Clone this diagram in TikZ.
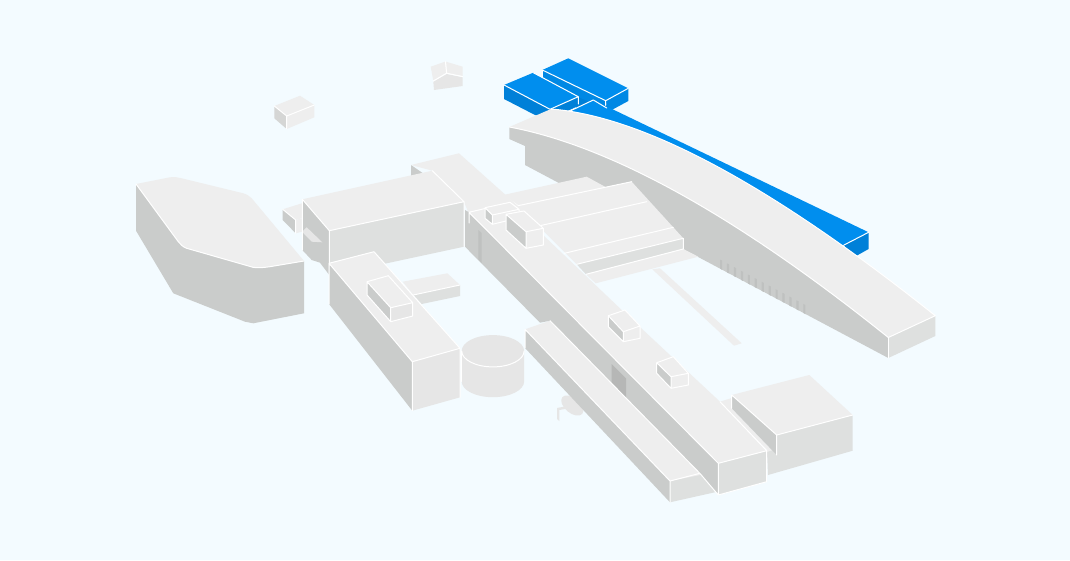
\documentclass[tikz,border=0pt]{standalone}
\definecolor{bgc}{HTML}{F3FBFF}
\definecolor{roofc}{HTML}{EEEEEE}
\definecolor{darkc}{HTML}{CACCCB}
\definecolor{lightc}{HTML}{DEE0DF}
\definecolor{palec}{HTML}{E6E6E6}
\definecolor{shadec}{HTML}{BFC1C0}
\definecolor{blueT}{HTML}{008EEE}
\definecolor{blueS}{HTML}{0080D8}
\definecolor{blueM}{HTML}{0088E4}
\tikzset{
  rooff/.style={fill=roofc},
  shadef/.style={fill=shadec},
  ridge/.style={draw=white,line width=0.75pt,line join=round,line cap=round,fill=none},
}
\begin{document}
\begin{tikzpicture}[x=0.75pt,y=-0.75pt]
\useasboundingbox (0,0) rectangle (1070,560);
\fill[bgc] (0,0) rectangle (1070,560);

% --- free boxes at the back
\fill[darkc!70!roofc] (274.3,106)--(286.7,116)--(286.7,129)--(274.3,118.3)--cycle;
\fill[rooff] (274.3,106)--(300,95.7)--(314.3,105)--(286.7,116)--cycle;
\fill[rooff] (286.7,116)--(314.3,105)--(314.3,117.3)--(286.7,129)--cycle;
\draw[ridge] (274.3,106)--(286.7,116)--(314.3,105) (286.7,116)--(286.7,129);

\fill[rooff] (430.7,66.7)--(445,61.7)--(446.7,72.7)--(433.3,80.7)--cycle;
\fill[rooff] (446,61.7)--(462.7,66.7)--(462.7,76)--(446.7,73.3)--cycle;
\fill[palec] (446.7,74)--(462.7,77.3)--(462.7,86)--(434,90)--(433.3,81.7)--cycle;
\draw[ridge] (445.5,61.7)--(446.6,73.2)--(433.3,81) (446.6,73.2)--(462.7,76.6);

% --- blue buildings
\fill[blueS] (578,97)--(606,101)--(608,112)--(575,112)--cycle;
\fill[blueM] (542.3,70)--(605.7,100.7)--(605.7,110)--(590,102)--(578,97)--(542.3,79)--cycle;
\fill[blueM] (605.7,100.7)--(628.3,88.3)--(628.3,101)--(608,112)--cycle;
\fill[blueT] (542.3,70)--(568.3,58.3)--(628.3,88.3)--(605.7,100.7)--cycle;
\draw[ridge] (542.3,78)--(542.3,70)--(605.7,100.7)--(628.3,88.3) (605.7,100.7)--(605.7,108);

\fill[blueS] (504,85)--(550,109.3)--(578.3,96.7)--(578.3,106)--(552,118)--(535,115)--(504,99)--cycle;
\fill[blueT] (504,85)--(533.3,72.7)--(578.3,96.7)--(550,109.3)--cycle;
\draw[ridge] (504,85)--(550,109.3)--(578.3,96.7)--(533.3,72.7) (578.3,96.7)--(578.3,104);

\fill[blueS] (844,245)--(868.6,232.3)--(868.6,249)--(857,255.5)--(850,256)--cycle;
\fill[blueT] (568,112)--(593.3,100)--(868.6,232.3)--(844,245)--(825,245)--(700,180)--(600,130)--cycle;
\draw[ridge] (568,112)--(593.3,100)--(606.7,108) (844,245)--(868.6,232.3);

% --- curved building
\fill[darkc] (509.3,127)--(509.3,139)--(525,146)--(525,165)--(888.3,358)--(888.3,337.5)
  .. controls (722,204) and (600,144) .. (509.3,127)--cycle;
\fill[lightc] (888.3,337.5)--(935.3,315.7)--(935.3,336)--(888.3,358)--cycle;
\fill[rooff] (509.3,127)--(551,109) .. controls (640,116) and (765,180) .. (935.3,315.7)
  --(888.3,337.5) .. controls (722,204) and (600,144) .. (509.3,127)--cycle;
\draw[ridge] (551,109) .. controls (640,116) and (765,180) .. (935.3,315.7)--(888.3,337.5)
  .. controls (722,204) and (600,144) .. (509.3,127);
\draw[ridge] (888.3,337.5)--(888.3,358);
\foreach \i in {0,...,12}{
  \pgfmathsetmacro{\xa}{720+6.94*\i}
  \pgfmathsetmacro{\ya}{165+0.5317*(\xa-525)}
  \fill[shadef] (\xa,\ya-9)--(\xa+2.2,\ya-8)--(\xa+2.2,\ya+1.2)--(\xa,\ya)--cycle;
}

% --- halls behind the spine
\fill[rooff] (503.3,195)--(586.7,176.7)--(605,186.7)--(530,225)--cycle;
\fill[rooff] (518,205.7)--(631.7,181.7)--(683.3,238.3)--(576.7,264.3)--cycle;
\fill[lightc] (576.7,264.3)--(683.3,238.3)--(683.3,249)--(586,274.3)--cycle;
\fill[rooff] (586,274.3)--(683.3,249)--(698.3,256.7)--(595.7,283.3)--cycle;
\draw[ridge] (503.3,195)--(518,205.7) (518,205.7)--(631.7,181.7)
  (540,225.7)--(646.7,201.7) (564.3,253.3)--(673.3,227.3)
  (576.7,264.3)--(683.3,238.3)--(683.3,249)--(586,274.3);
\fill[rooff] (652.3,269.3)--(660,268.3)--(741.7,343.3)--(734,345.7)--cycle;

% --- neck behind the main building
\fill[darkc] (411,165)--(411,178)--(424,174)--cycle;
\fill[rooff] (411,165)--(459,153.3)--(518,206)--(469,214)--(464,202)--(432.3,170.7)--cycle;

% --- small box at far left
\fill[rooff] (282.7,209.3)--(302,203.3)--(302,218)--(295.7,220)--cycle;
\fill[darkc] (282.7,209.3)--(295.7,220)--(295.7,233.3)--(282.7,220)--cycle;
\fill[rooff] (295.7,220)--(302,218.3)--(302,231.7)--(295.7,233.3)--cycle;
\draw[ridge] (282.7,209.3)--(295.7,220)--(295.7,233.3);

% --- big left block
\fill[darkc] (136,184)--(136,230.7)--(173.3,293.3)--(245,321.7)--(253.3,323.3)--(304,313.3)--(304,261)--cycle;
\fill[rooff] (136,184)--(170,177.3) .. controls (175,176.8) and (178,177.3) .. (181.7,178.3)
  --(243.3,193.3) .. controls (247,194.5) and (249.5,196) .. (251.7,198.3)
  --(304,261)--(270,266.7) .. controls (264,267.5) and (258,268.3) .. (253,267.3)
  --(186.7,248.3) .. controls (183,247) and (180.5,244.5) .. (178.3,241.7)--cycle;
\draw[ridge] (136,184)--(178.3,241.7) .. controls (180.5,244.5) and (183,247) .. (186.7,248.3)
  --(253,267.3) .. controls (258,268.3) and (264,267.5) .. (270,266.7)--(304,261);

% --- main building
\fill[darkc] (302.3,199.3)--(329.3,230.7)--(329.3,275)--(320,262.7)--(311.7,260)--(302.3,250)--cycle;
\fill[palec] (302,231.7)--(306.7,227.3)--(322.3,242.3)--(311.7,241.7)--cycle;
\fill[lightc] (329.3,230.7)--(464,201.7)--(464,246.7)--(386.7,263.3)--(329.3,275)--cycle;
\fill[rooff] (302.3,199.3)--(432.3,170.7)--(464,201.7)--(329.3,230.7)--cycle;
\draw[ridge] (302.3,250)--(302.3,199.3)--(329.3,230.7)--(464,201.7) (329.3,230.7)--(329.3,275) (432.3,170.7)--(464,201.7)--(464,246.7);

% --- wing
\fill[rooff] (402.7,281.7)--(447.3,273.3)--(460,285)--(413.3,295)--cycle;
\fill[lightc] (413.3,295)--(460,285)--(460,296)--(421.7,304)--cycle;
\draw[ridge] (413.3,295)--(460,285);

% --- cylinder
\fill[palec] (461.7,351)--(461.7,381.5) arc[start angle=180,end angle=0,x radius=31.2,y radius=15.7]--(524.1,351)--cycle;
\fill[palec] (492.9,351) ellipse[x radius=31.2,y radius=15.9];
\draw[ridge] (461.7,351) arc[start angle=180,end angle=0,x radius=31.2,y radius=15.9];
\draw[ridge] (461.7,351)--(461.7,381.5);

% --- lower left building
\fill[darkc] (329,263.3)--(412.3,361.7)--(412.3,410.7)--(329,304)--cycle;
\fill[palec] (412.3,361.7)--(460,348.3)--(460,397.3)--(412.3,410.7)--cycle;
\fill[rooff] (329,263.3)--(374,251.7)--(460,348.3)--(412.3,361.7)--cycle;
\draw[ridge] (329,304)--(329,263.3)--(412.3,361.7)--(460,348.3)--(460,397.3) (412.3,361.7)--(412.3,410.7)
  (329,263.3)--(374,251.7)--(460,348.3);
\fill[darkc] (367,281.7)--(390.7,307.7)--(390.7,321.7)--(367,295)--cycle;
\fill[palec] (390.7,307.7)--(412.7,302.7)--(412.7,316)--(390.7,321.7)--cycle;
\fill[rooff] (367,281.7)--(388.3,275.7)--(412.7,302.7)--(390.7,307.7)--cycle;
\draw[ridge] (367,295)--(367,281.7)--(388.3,275.7)--(412.7,302.7)--(412.7,316)--(390.7,321.7)--(367,295)
  (367,281.7)--(390.7,307.7)--(412.7,302.7) (390.7,307.7)--(390.7,321.7);

% --- tree
\fill[palec,rotate around={-40:(572.3,405.5)}] (572.3,405.5) ellipse[x radius=13,y radius=7.5];
\fill[palec] (557,408)--(565,406.5)--(565,409)--(559.3,410)--(559.3,421)--(557,419)--cycle;

% --- right building
\fill[rooff] (720,401.7)--(731.7,398)--(731.7,408.3)--(776.7,455)--(768,459)--(767,450)--cycle;
\fill[lightc] (776.7,435)--(852.7,415)--(852.7,450.7)--(768,475)--(767,452)--(776.7,449)--cycle;
\fill[darkc] (731.7,395)--(776.7,435)--(776.7,455)--(731.7,408.3)--cycle;
\fill[rooff] (731.7,395)--(809.3,375)--(852.7,415)--(776.7,435)--cycle;
\draw[ridge] (731.7,408.3)--(731.7,395)--(776.7,435)--(852.7,415) (776.7,435)--(776.7,455);

% --- lower strip
\fill[darkc] (525,329.3)--(670,481)--(670,502.3)--(525,348)--cycle;
\fill[lightc] (670,481)--(705,472)--(725,490)--(670,502.3)--cycle;
\fill[rooff] (525,329.3)--(550,320.7)--(705,474)--(670,481)--cycle;
\draw[ridge] (525,348)--(525,329.3)--(670,481)--(705,472) (670,481)--(670,502.3);

% --- spine
\fill[darkc] (465,210)--(469,212.3)--(718.3,463.3)--(718.3,495)--(700,473.5)--(550,320.7)--(540,322.7)--(465,246.7)--cycle;
\fill[shadef] (478.3,230)--(481.7,233)--(481.7,263)--(478.3,259.5)--cycle;
\fill[shadec!85!gray] (611.7,364)--(626,378.3)--(626,397.3)--(611.7,383)--cycle;
\fill[lightc] (718.3,463.3)--(766.7,450.7)--(766.7,481.7)--(718.3,495)--cycle;
\fill[rooff] (469,212.3)--(510,204)--(543,235)--(621.7,310)--(720,401.7)--(766.7,450.7)--(718.3,463.3)--cycle;
\draw[ridge] (469,223)--(469,212.3)--(718.3,463.3)--(766.7,450.7)--(766.7,481.7)--(718.3,495)--(718.3,463.3)
  (469,212.3)--(485,208.5) (550,320.7)--(700,473.5)--(718.3,495)
  (720,401.7)--(766.7,450.7);

% --- boxes on the spine
\fill[darkc] (485,207.7)--(492.3,215)--(492.3,224.3)--(485,218.3)--cycle;
\fill[rooff] (492.3,215)--(519,209.3)--(519,218)--(492.3,224.3)--cycle;
\fill[rooff] (485,207.7)--(510,202.3)--(519,209.3)--(492.3,215)--cycle;
\draw[ridge] (485,218.3)--(485,207.7)--(510,202.3)--(519,209.3)--(492.3,215)--(485,207.7)
  (492.3,215)--(492.3,224.3)--(485,218.3) (492.3,224.3)--(510,220) (519,209.3)--(519,212);

\fill[darkc] (506,214.3)--(526,231.7)--(526,248.3)--(506,230)--cycle;
\fill[rooff] (526,231.7)--(543.3,228.3)--(543.3,245)--(526,248.3)--cycle;
\fill[rooff] (506,214.3)--(524,211)--(543.3,228.3)--(526,231.7)--cycle;
\draw[ridge] (506,230)--(506,214.3)--(524,211)--(543.3,228.3)--(543.3,245)--(526,248.3)--cycle
  (506,214.3)--(526,231.7)--(543.3,228.3) (526,231.7)--(526,248.3);

\fill[darkc] (608.3,315.7)--(623.3,331.7)--(623.3,341.7)--(608.3,326.7)--cycle;
\fill[rooff] (623.3,331.7)--(640,326)--(640,338.3)--(623.3,341.7)--cycle;
\fill[rooff] (608.3,315.7)--(625,310)--(640,326)--(623.3,331.7)--cycle;
\draw[ridge] (608.3,326.7)--(608.3,315.7)--(625,310)--(640,326)--(640,338.3)--(623.3,341.7)--cycle
  (608.3,315.7)--(623.3,331.7)--(640,326) (623.3,331.7)--(623.3,341.7);

\fill[darkc] (656.7,362.7)--(671,376.7)--(671,388.3)--(656.7,373.3)--cycle;
\fill[rooff] (671,376.7)--(688.3,373.3)--(688.3,385)--(671,388.3)--cycle;
\fill[rooff] (656.7,362.7)--(673.3,356.7)--(688.3,373.3)--(671,376.7)--cycle;
\draw[ridge] (656.7,373.3)--(656.7,362.7)--(673.3,356.7)--(688.3,373.3)--(688.3,385)--(671,388.3)--cycle
  (656.7,362.7)--(671,376.7)--(688.3,373.3) (671,376.7)--(671,388.3);
\end{tikzpicture}
\end{document}
